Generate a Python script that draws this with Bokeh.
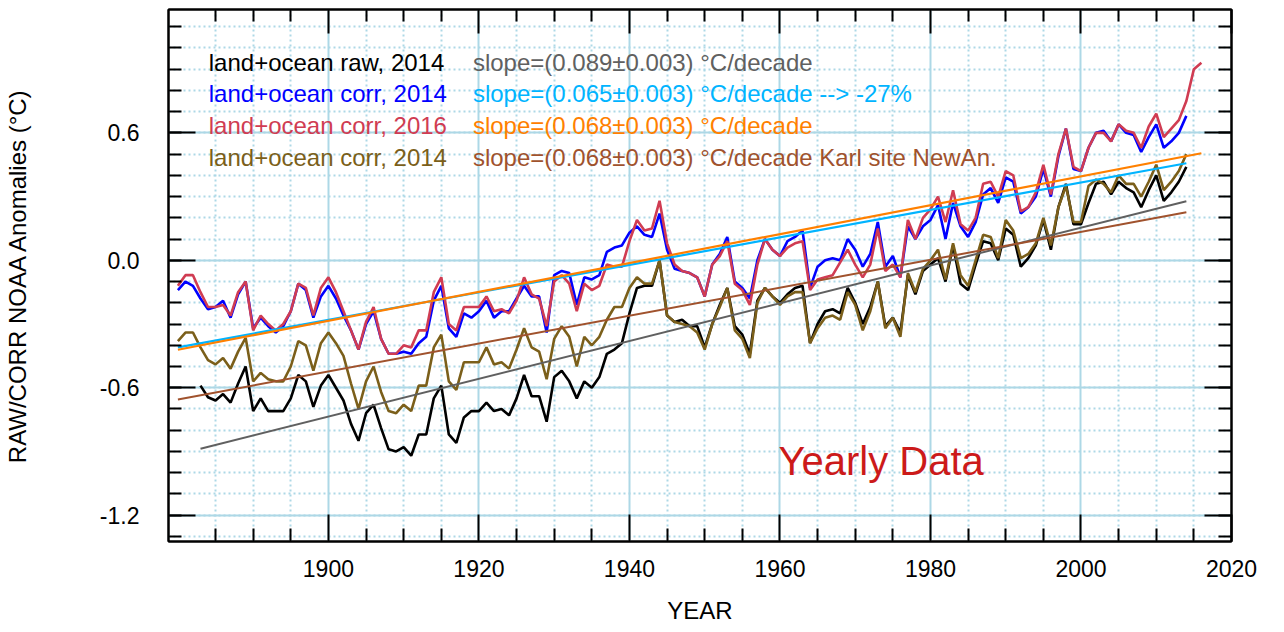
from bokeh.plotting import figure
from bokeh.models import (Range1d, LinearAxis, SingleIntervalTicker, FixedTicker,
                          Grid, PrintfTickFormatter, CustomJSTickFormatter, Label)
from bokeh.embed import file_html
from bokeh.resources import INLINE

# ---------------- data ----------------
years_corr2016 = list(range(1880, 2017))
corr2016 = [
    -0.12, -0.07, -0.07, -0.15, -0.22, -0.22, -0.21, -0.26, -0.15, -0.10,
    -0.33, -0.26, -0.30, -0.33, -0.30, -0.24, -0.11, -0.13, -0.26, -0.13,
    -0.08, -0.15, -0.24, -0.33, -0.42, -0.29, -0.22, -0.37, -0.44, -0.44,
    -0.40, -0.41, -0.33, -0.33, -0.15, -0.08, -0.30, -0.33, -0.22, -0.22,
    -0.22, -0.17, -0.24, -0.23, -0.25, -0.19, -0.08, -0.16, -0.18, -0.31,
    -0.10, -0.07, -0.11, -0.24, -0.11, -0.14, -0.12, -0.02, -0.03, -0.03,
    0.09, 0.19, 0.14, 0.15, 0.28, 0.08, -0.02, -0.05, -0.06, -0.08,
    -0.17, -0.02, 0.02, 0.09, -0.11, -0.14, -0.21, -0.02, 0.10, 0.05,
    0.02, 0.06, 0.08, 0.09, -0.14, -0.09, -0.08, -0.07, -0.01, 0.05,
    -0.02, -0.08, -0.02, 0.15, -0.05, -0.02, -0.08, 0.19, 0.10, 0.20,
    0.24, 0.30, 0.18, 0.33, 0.17, 0.14, 0.20, 0.36, 0.37, 0.30,
    0.42, 0.40, 0.23, 0.25, 0.32, 0.45, 0.31, 0.50, 0.62, 0.44,
    0.42, 0.53, 0.60, 0.60, 0.56, 0.64, 0.61, 0.60, 0.53, 0.63,
    0.69, 0.58, 0.62, 0.66, 0.75, 0.90, 0.93]

years_corr2014 = list(range(1880, 2015))
corr2014 = [
    -0.14, -0.10, -0.12, -0.18, -0.23, -0.22, -0.19, -0.27, -0.16, -0.10,
    -0.32, -0.27, -0.31, -0.34, -0.31, -0.24, -0.11, -0.14, -0.27, -0.17,
    -0.12, -0.18, -0.26, -0.33, -0.42, -0.30, -0.24, -0.37, -0.44, -0.44,
    -0.43, -0.44, -0.39, -0.36, -0.19, -0.12, -0.32, -0.36, -0.25, -0.27,
    -0.24, -0.19, -0.27, -0.24, -0.24, -0.18, -0.12, -0.17, -0.17, -0.34,
    -0.07, -0.05, -0.06, -0.21, -0.08, -0.09, -0.07, 0.04, 0.06, 0.07,
    0.13, 0.16, 0.12, 0.11, 0.22, 0.05, -0.04, -0.05, -0.06, -0.08,
    -0.17, -0.02, 0.03, 0.11, -0.10, -0.13, -0.18, 0.00, 0.10, 0.05,
    0.02, 0.09, 0.11, 0.14, -0.13, -0.03, 0.00, 0.01, 0.00, 0.10,
    0.05, -0.03, 0.03, 0.18, -0.03, 0.02, -0.08, 0.16, 0.10, 0.16,
    0.19, 0.26, 0.10, 0.27, 0.16, 0.11, 0.18, 0.31, 0.34, 0.27,
    0.39, 0.37, 0.22, 0.25, 0.30, 0.43, 0.30, 0.49, 0.62, 0.43,
    0.42, 0.53, 0.60, 0.61, 0.56, 0.64, 0.60, 0.59, 0.51, 0.58,
    0.64, 0.53, 0.56, 0.60, 0.68]

years_raw = list(range(1883, 2015))
raw2014 = [
    -0.59, -0.645, -0.66, -0.63, -0.67, -0.58, -0.50,
    -0.71, -0.65, -0.71, -0.71, -0.71, -0.65, -0.54, -0.57, -0.69, -0.59,
    -0.54, -0.60, -0.66, -0.77, -0.85, -0.72, -0.68, -0.79, -0.89, -0.90,
    -0.88, -0.92, -0.82, -0.82, -0.65, -0.59, -0.82, -0.86, -0.74, -0.71,
    -0.71, -0.67, -0.71, -0.70, -0.73, -0.65, -0.54, -0.64, -0.64, -0.76,
    -0.55, -0.52, -0.57, -0.65, -0.57, -0.60, -0.55, -0.44, -0.42, -0.39,
    -0.25, -0.13, -0.12, -0.12, 0.00, -0.26, -0.29, -0.28, -0.31, -0.31,
    -0.41, -0.30, -0.21, -0.13, -0.31, -0.35, -0.44, -0.19, -0.13, -0.17,
    -0.20, -0.16, -0.13, -0.12, -0.39, -0.30, -0.24, -0.23, -0.25, -0.13,
    -0.20, -0.30, -0.22, -0.10, -0.31, -0.27, -0.34, -0.07, -0.16, -0.05,
    -0.02, 0.01, -0.10, 0.07, -0.11, -0.14, -0.02, 0.09, 0.08, 0.00,
    0.15, 0.12, -0.03, 0.01, 0.07, 0.19, 0.05, 0.25, 0.36, 0.17,
    0.17, 0.27, 0.36, 0.37, 0.31, 0.37, 0.34, 0.32, 0.25, 0.33,
    0.40, 0.28, 0.32, 0.37, 0.44]

years_karl = list(range(1880, 2015))
karl2014 = [
    -0.38, -0.34, -0.34, -0.41, -0.47, -0.49, -0.46, -0.51, -0.43, -0.365,
    -0.57, -0.53, -0.56, -0.57, -0.57, -0.50, -0.38, -0.40, -0.52, -0.39,
    -0.34, -0.39, -0.45, -0.58, -0.70, -0.57, -0.50, -0.62, -0.71, -0.72,
    -0.68, -0.71, -0.59, -0.59, -0.41, -0.35, -0.57, -0.61, -0.48, -0.48,
    -0.48, -0.41, -0.49, -0.48, -0.51, -0.42, -0.32, -0.41, -0.43, -0.56,
    -0.37, -0.31, -0.36, -0.50, -0.36, -0.40, -0.36, -0.28, -0.22, -0.22,
    -0.13, -0.08, -0.11, -0.11, 0.00, -0.26, -0.29, -0.30, -0.31, -0.34,
    -0.42, -0.30, -0.22, -0.13, -0.33, -0.37, -0.46, -0.20, -0.13, -0.17,
    -0.21, -0.17, -0.15, -0.15, -0.39, -0.32, -0.27, -0.26, -0.28, -0.15,
    -0.21, -0.33, -0.24, -0.10, -0.32, -0.27, -0.36, -0.06, -0.15, -0.04,
    0.00, 0.05, -0.09, 0.08, -0.07, -0.12, 0.00, 0.12, 0.11, 0.01,
    0.19, 0.14, 0.01, 0.03, 0.08, 0.20, 0.07, 0.25, 0.35, 0.18,
    0.18, 0.35, 0.38, 0.36, 0.32, 0.40, 0.36, 0.36, 0.30, 0.37,
    0.45, 0.33, 0.37, 0.42, 0.50]

# trend lines: end points
trend_raw_years = [1883, 2014]
trend_raw_vals = [-0.887, 0.278]
trend_corr2014_years = [1880, 2014]
trend_corr2014_vals = [-0.41, 0.457]
trend_corr2016_years = [1880, 2016]
trend_corr2016_vals = [-0.421, 0.504]
trend_karl_years = [1880, 2014]
trend_karl_vals = [-0.655, 0.226]

x_major_ticks = [1900, 1920, 1940, 1960, 1980, 2000, 2020]
x_minor_ticks = [1885, 1890, 1895, 1905, 1910, 1915, 1925, 1930, 1935,
                 1945, 1950, 1955, 1965, 1970, 1975, 1985, 1990, 1995,
                 2005, 2010, 2015]

legend_left = ["land+ocean raw, 2014", "land+ocean corr, 2014",
               "land+ocean corr, 2016", "land+ocean corr, 2014"]
legend_right = ["slope=(0.089\u00b10.003) \u00b0C/decade",
                "slope=(0.065\u00b10.003) \u00b0C/decade --> -27%",
                "slope=(0.068\u00b10.003) \u00b0C/decade",
                "slope=(0.068\u00b10.003) \u00b0C/decade Karl site NewAn."]

# ---------------- style ----------------
FONT = "Liberation Sans"
C_RAW = "#000000"
C_C14 = "#0000ff"
C_C16 = "#d03c52"
C_KARL = "#7b5f1a"
C_T_RAW = "#606060"
C_T_C14 = "#00b4ff"
C_T_C16 = "#ff8000"
C_T_KARL = "#a0522d"
GRID = "#add8e6"

Y_TOP, Y_BOT = 1.1808, -1.3239

p = figure(width=1276, height=630,
           x_range=Range1d(1878.75, 2020.0), y_range=Range1d(Y_BOT, Y_TOP),
           x_axis_type=None, y_axis_type=None,
           output_backend="svg", toolbar_location=None,
           min_border_left=162, min_border_right=45,
           min_border_top=9, min_border_bottom=89,
           background_fill_color="white", border_fill_color="white")
p.outline_line_color = "black"
p.outline_line_width = 2

xt = FixedTicker(ticks=x_major_ticks, minor_ticks=x_minor_ticks)
yt = SingleIntervalTicker(interval=0.6, num_minor_ticks=6)

for dim, tk in ((0, xt), (1, yt)):
    p.add_layout(Grid(dimension=dim, ticker=tk,
                      grid_line_color=GRID, grid_line_width=2,
                      minor_grid_line_color=GRID, minor_grid_line_width=2,
                      minor_grid_line_dash="2 3"))

blank = CustomJSTickFormatter(code="return ''")


def style(ax, major, minor, show_labels):
    ax.major_tick_in = major
    ax.major_tick_out = 0
    ax.minor_tick_in = minor
    ax.minor_tick_out = 0
    ax.axis_line_color = "black"
    ax.axis_line_width = 2
    ax.major_tick_line_color = "black"
    ax.major_tick_line_width = 2
    ax.minor_tick_line_color = "black"
    ax.minor_tick_line_width = 2
    if show_labels:
        ax.major_label_text_font = FONT
        ax.major_label_text_font_size = "23px"
        ax.major_label_text_color = "black"
        ax.axis_label_text_font = FONT
        ax.axis_label_text_font_size = "24px"
        ax.axis_label_text_font_style = "normal"
        ax.axis_label_text_color = "black"
    else:
        ax.formatter = blank
        ax.major_label_text_font_size = "1px"
        ax.major_label_standoff = 0


left = LinearAxis(ticker=yt, formatter=PrintfTickFormatter(format="%.1f"),
                  axis_label="RAW/CORR NOAA Anomalies (\u00b0C)")
style(left, 27, 13, True)
left.major_label_standoff = 29
left.axis_label_standoff = 66
p.add_layout(left, "left")

right = LinearAxis(ticker=yt)
style(right, 27, 13, False)
p.add_layout(right, "right")

bottom = LinearAxis(ticker=xt, axis_label="YEAR")
style(bottom, 27, 13, True)
bottom.major_label_standoff = 18
bottom.axis_label_standoff = 17
p.add_layout(bottom, "below")

top = LinearAxis(ticker=xt)
style(top, 24, 12, False)
p.add_layout(top, "above")

# ---------------- series ----------------
p.line(years_corr2014, corr2014, line_color=C_C14, line_width=2.6)
p.line(years_corr2016, corr2016, line_color=C_C16, line_width=2.6)
p.line(years_raw, raw2014, line_color=C_RAW, line_width=2.6)
p.line(years_karl, karl2014, line_color=C_KARL, line_width=2.6)

p.line(trend_raw_years, trend_raw_vals, line_color=C_T_RAW, line_width=2)
p.line(trend_corr2014_years, trend_corr2014_vals, line_color=C_T_C14, line_width=2.2)
p.line(trend_corr2016_years, trend_corr2016_vals, line_color=C_T_C16, line_width=2.2)
p.line(trend_karl_years, trend_karl_vals, line_color=C_T_KARL, line_width=2)

# ---------------- annotations (anchored at the text's vertical middle) ----------------
left_colors = [C_RAW, C_C14, C_C16, C_KARL]
right_colors = [C_T_RAW, C_T_C14, C_T_C16, C_T_KARL]
rows_y = [0.9325, 0.7837, 0.6347, 0.4840]
for txt, col, yy in zip(legend_left, left_colors, rows_y):
    p.add_layout(Label(x=1884.1, y=yy, text=txt, text_font=FONT,
                       text_font_size="24px", text_color=col,
                       text_baseline="middle", text_align="left"))
for txt, col, yy in zip(legend_right, right_colors, rows_y):
    p.add_layout(Label(x=1919.2, y=yy, text=txt, text_font=FONT,
                       text_font_size="24px", text_color=col,
                       text_baseline="middle", text_align="left"))

p.add_layout(Label(x=1959.8, y=-0.9426, text="Yearly Data", text_font=FONT,
                   text_font_size="40px", text_color="#cc1a1a",
                   text_baseline="middle", text_align="left"))

open("out.html", "w").write(file_html(p, INLINE))
